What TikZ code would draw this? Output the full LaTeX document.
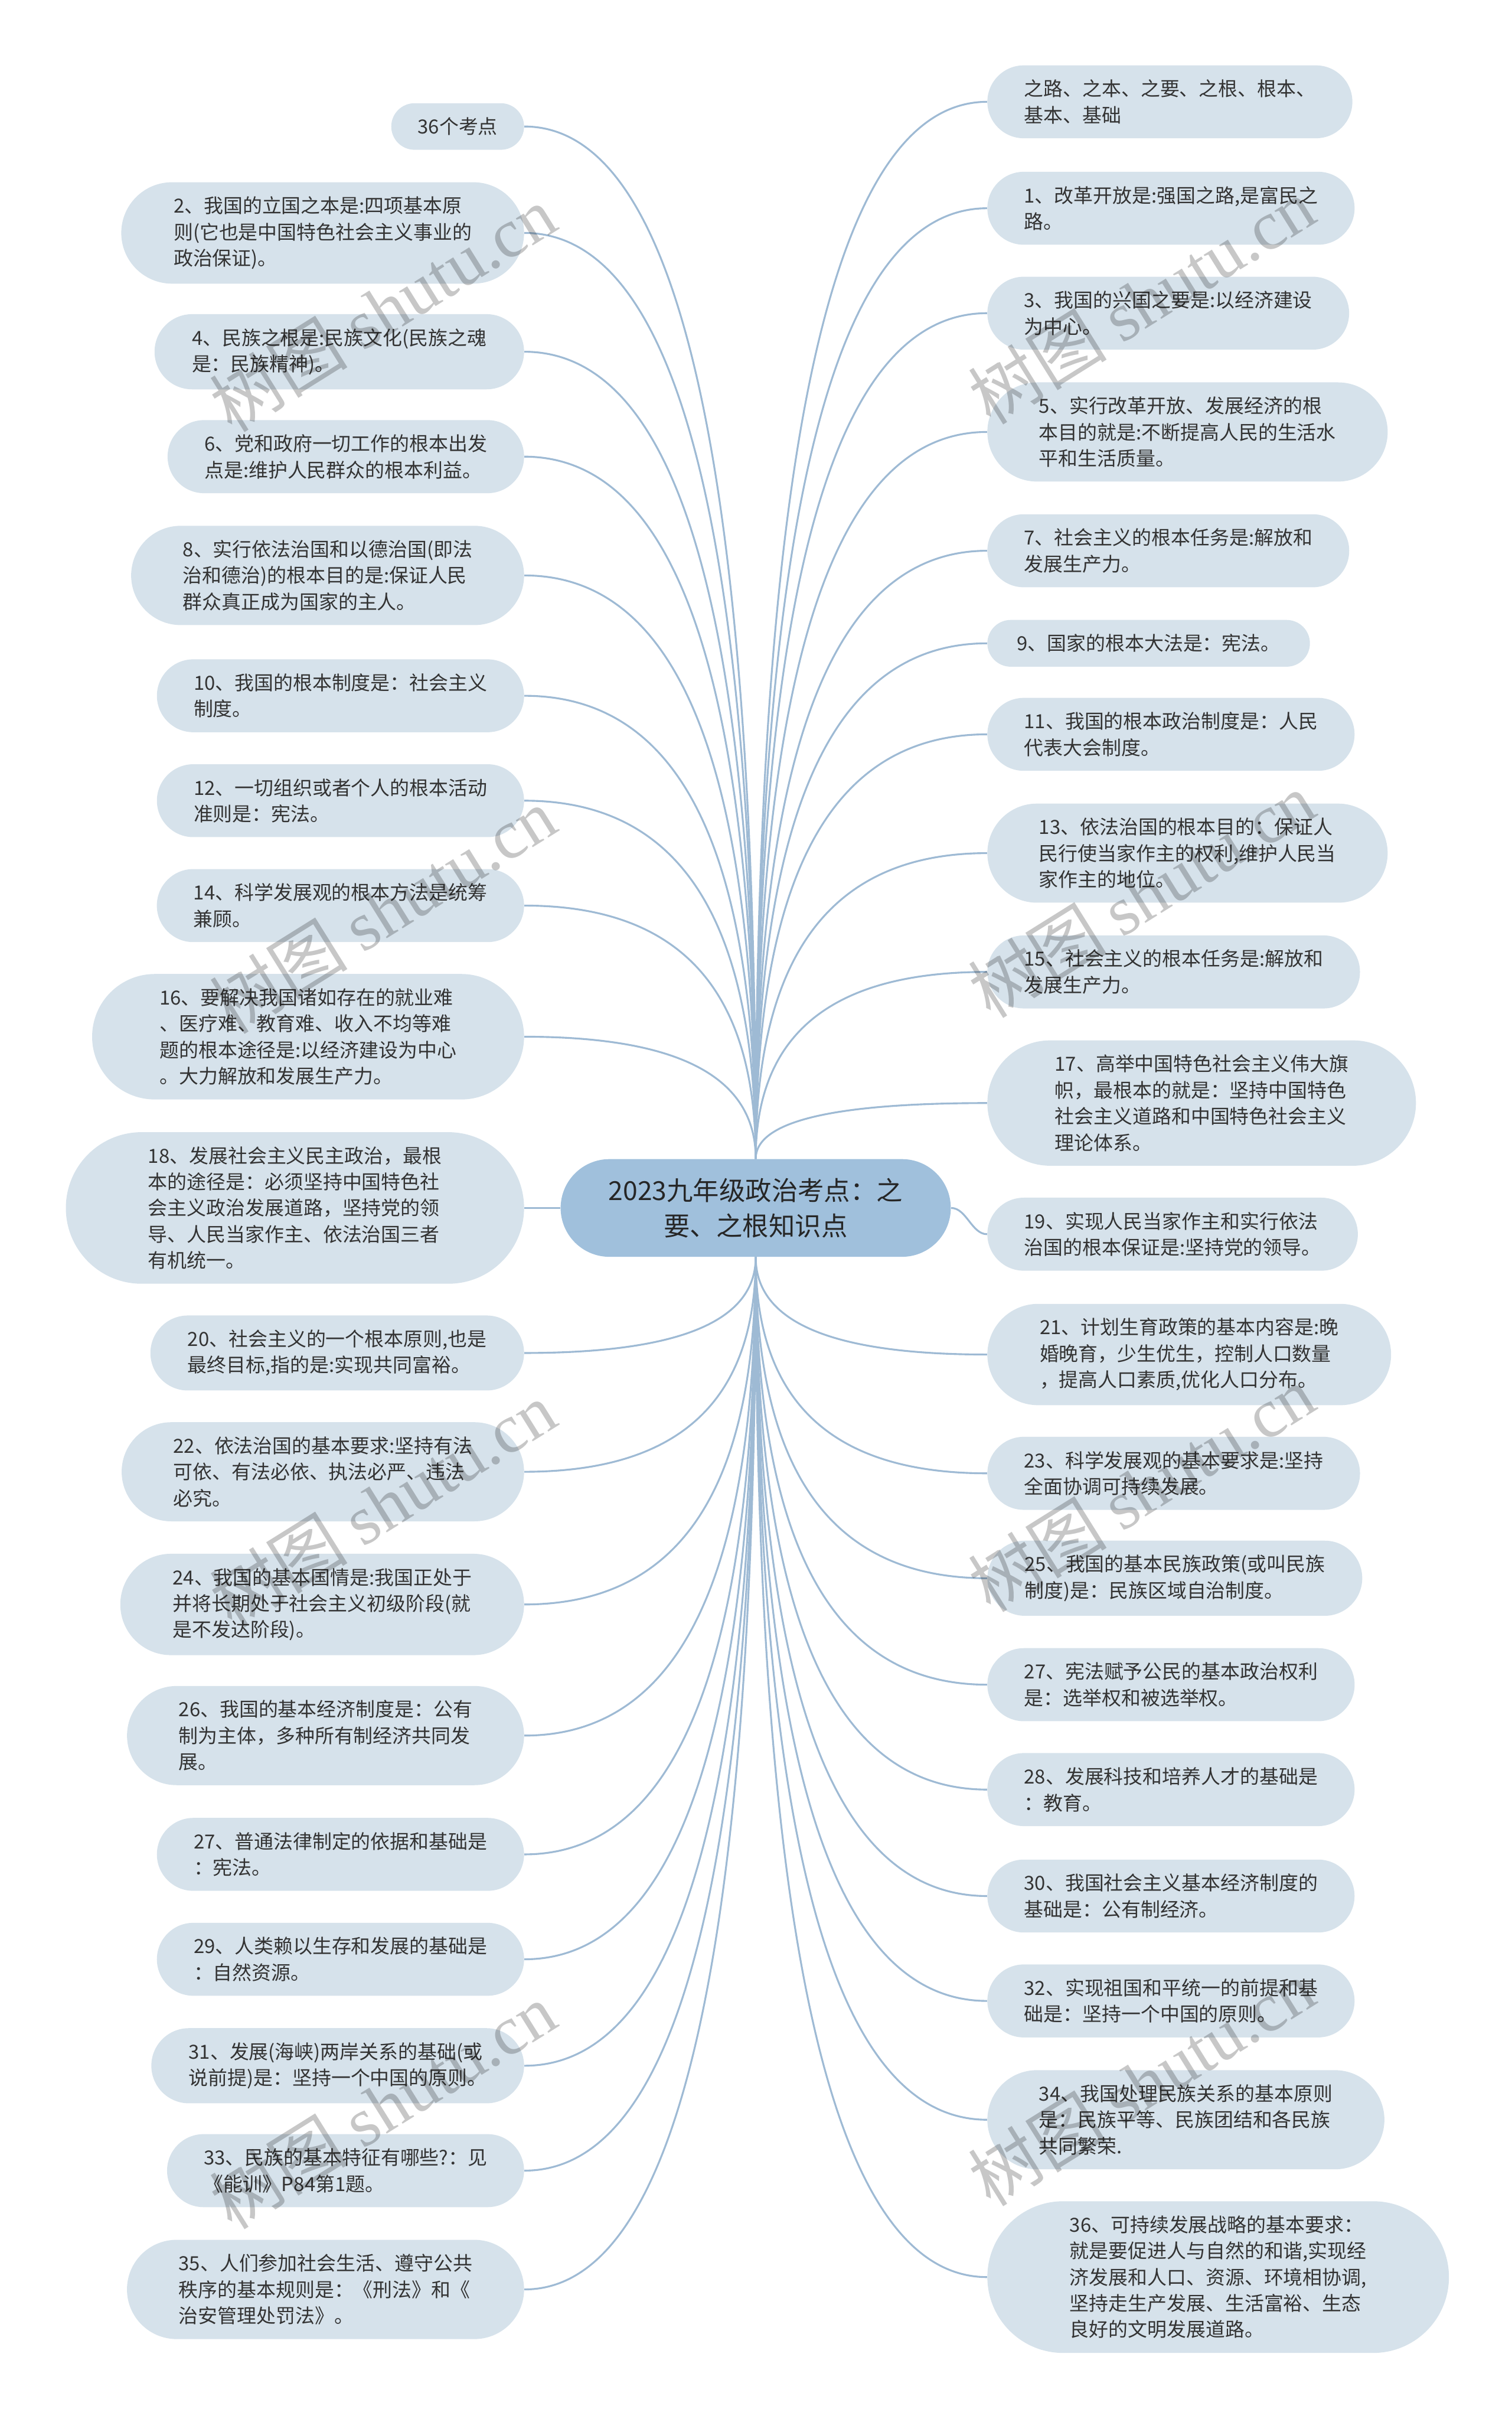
\documentclass[tikz,border=0pt]{standalone}
\usepackage{fontspec}
\setmainfont{Noto Sans CJK SC}
\newfontfamily\wmserif{Liberation Serif}
\usetikzlibrary{shapes.misc, calc}
\definecolor{leaffill}{RGB}{214,226,235}
\definecolor{rootfill}{RGB}{160,192,220}
\definecolor{branch}{RGB}{158,186,212}
\definecolor{inktext}{RGB}{51,51,51}

\begin{document}
\begin{tikzpicture}[x=1pt, y=-1pt,
    leaf/.style={rounded rectangle, fill=leaffill, text=inktext, align=left, inner xsep=#1, inner ysep=9.3pt, font=\fontsize{12.6}{17}\selectfont},
    leaf/.default=19pt,
    lleaf/.style={leaf=#1, anchor=east}, lleaf/.default=19pt,
    rleaf/.style={leaf=#1, anchor=west}, rleaf/.default=19pt,
    rootbox/.style={rounded rectangle, fill=rootfill, text=black!85, align=center, inner xsep=24.5pt, inner ysep=12.3pt, font=\fontsize{17}{23}\selectfont},
    branchline/.style={draw=branch, line width=1.2pt},
    wmark/.style={rotate=32, text=black, text opacity=0.22, font=\fontsize{45}{45}\selectfont}]
    \useasboundingbox (0,0) rectangle (980,1568);

    \node[rootbox] (root) at (490,783) {2023九年级政治考点：之\\要、之根知识点};

    % left column
    \node[lleaf=16pt] (L1) at (340,82) {36个考点};
    \node[lleaf=24pt] (L2) at (340,151) {2、我国的立国之本是:四项基本原\\则(它也是中国特色社会主义事业的\\政治保证)。};
    \node[lleaf] (L3) at (340,228) {4、民族之根是:民族文化(民族之魂\\是：民族精神)。};
    \node[lleaf] (L4) at (340,296) {6、党和政府一切工作的根本出发\\点是:维护人民群众的根本利益。};
    \node[lleaf=24pt] (L5) at (340,373) {8、实行依法治国和以德治国(即法\\治和德治)的根本目的是:保证人民\\群众真正成为国家的主人。};
    \node[lleaf] (L6) at (340,451) {10、我国的根本制度是：社会主义\\制度。};
    \node[lleaf] (L7) at (340,519) {12、一切组织或者个人的根本活动\\准则是：宪法。};
    \node[lleaf] (L8) at (340,587) {14、科学发展观的根本方法是统筹\\兼顾。};
    \node[lleaf=29pt] (L9) at (340,672) {16、要解决我国诸如存在的就业难\\、医疗难、教育难、收入不均等难\\题的根本途径是:以经济建设为中心\\。大力解放和发展生产力。};
    \node[lleaf=33pt] (L10) at (340,783) {18、发展社会主义民主政治，最根\\本的途径是：必须坚持中国特色社\\会主义政治发展道路，坚持党的领\\导、人民当家作主、依法治国三者\\有机统一。};
    \node[lleaf] (L11) at (340,877) {20、社会主义的一个根本原则,也是\\最终目标,指的是:实现共同富裕。};
    \node[lleaf=24pt] (L12) at (340,954) {22、依法治国的基本要求:坚持有法\\可依、有法必依、执法必严、违法\\必究。};
    \node[lleaf=24pt] (L13) at (340,1040) {24、我国的基本国情是:我国正处于\\并将长期处于社会主义初级阶段(就\\是不发达阶段)。};
    \node[lleaf=24pt] (L14) at (340,1125) {26、我国的基本经济制度是：公有\\制为主体，多种所有制经济共同发\\展。};
    \node[lleaf] (L15) at (340,1202) {27、普通法律制定的依据和基础是\\：宪法。};
    \node[lleaf] (L16) at (340,1270) {29、人类赖以生存和发展的基础是\\：自然资源。};
    \node[lleaf] (L17) at (340,1339) {31、发展(海峡)两岸关系的基础(或\\说前提)是：坚持一个中国的原则。};
    \node[lleaf] (L18) at (340,1407) {33、民族的基本特征有哪些?：见\\《能训》P84第1题。};
    \node[lleaf=24pt] (L19) at (340,1484) {35、人们参加社会生活、遵守公共\\秩序的基本规则是：《刑法》和《\\治安管理处罚法》。};

    % right column
    \node[rleaf] (R1) at (640,66) {之路、之本、之要、之根、根本、\\基本、基础};
    \node[rleaf] (R2) at (640,135) {1、改革开放是:强国之路,是富民之\\路。};
    \node[rleaf] (R3) at (640,203) {3、我国的兴国之要是:以经济建设\\为中心。};
    \node[rleaf=24pt] (R4) at (640,280) {5、实行改革开放、发展经济的根\\本目的就是:不断提高人民的生活水\\平和生活质量。};
    \node[rleaf] (R5) at (640,357) {7、社会主义的根本任务是:解放和\\发展生产力。};
    \node[rleaf=18pt] (R6) at (640,417) {9、国家的根本大法是：宪法。};
    \node[rleaf] (R7) at (640,476) {11、我国的根本政治制度是：人民\\代表大会制度。};
    \node[rleaf=24pt] (R8) at (640,553) {13、依法治国的根本目的：保证人\\民行使当家作主的权利,维护人民当\\家作主的地位。};
    \node[rleaf] (R9) at (640,630) {15、社会主义的根本任务是:解放和\\发展生产力。};
    \node[rleaf=29pt] (R10) at (640,715) {17、高举中国特色社会主义伟大旗\\帜，最根本的就是：坚持中国特色\\社会主义道路和中国特色社会主义\\理论体系。};
    \node[rleaf] (R11) at (640,800) {19、实现人民当家作主和实行依法\\治国的根本保证是:坚持党的领导。};
    \node[rleaf=24pt] (R12) at (640,878) {21、计划生育政策的基本内容是:晚\\婚晚育，少生优生，控制人口数量\\，提高人口素质,优化人口分布。};
    \node[rleaf] (R13) at (640,955) {23、科学发展观的基本要求是:坚持\\全面协调可持续发展。};
    \node[rleaf] (R14) at (640,1023) {25、我国的基本民族政策(或叫民族\\制度)是：民族区域自治制度。};
    \node[rleaf] (R15) at (640,1092) {27、宪法赋予公民的基本政治权利\\是：选举权和被选举权。};
    \node[rleaf] (R16) at (640,1160) {28、发展科技和培养人才的基础是\\：教育。};
    \node[rleaf] (R17) at (640,1229) {30、我国社会主义基本经济制度的\\基础是：公有制经济。};
    \node[rleaf] (R18) at (640,1297) {32、实现祖国和平统一的前提和基\\础是：坚持一个中国的原则。};
    \node[rleaf=24pt] (R19) at (640,1374) {34、我国处理民族关系的基本原则\\是：民族平等、民族团结和各民族\\共同繁荣.};
    \node[rleaf=33pt] (R20) at (640,1476) {36、可持续发展战略的基本要求：\\就是要促进人与自然的和谐,实现经\\济发展和人口、资源、环境相协调,\\坚持走生产发展、生活富裕、生态\\良好的文明发展道路。};

    % branches
    \foreach \i in {1,...,9}
        \draw[branchline] (root.north) .. controls ($(root.north)!.67!(root.north |- L\i.east)$) and ($(L\i.east)!.67!(root.north |- L\i.east)$) .. (L\i.east);
    \foreach \i in {11,...,19}
        \draw[branchline] (root.south) .. controls ($(root.south)!.67!(root.south |- L\i.east)$) and ($(L\i.east)!.67!(root.south |- L\i.east)$) .. (L\i.east);
    \foreach \i in {1,...,10}
        \draw[branchline] (root.north) .. controls ($(root.north)!.67!(root.north |- R\i.west)$) and ($(R\i.west)!.67!(root.north |- R\i.west)$) .. (R\i.west);
    \foreach \i in {12,...,20}
        \draw[branchline] (root.south) .. controls ($(root.south)!.67!(root.south |- R\i.west)$) and ($(R\i.west)!.67!(root.south |- R\i.west)$) .. (R\i.west);
    \draw[branchline] (root.west) -- (L10.east);
    \draw[branchline] (root.east) .. controls +(10,0) and +(-10,0) .. (R11.west);

    % watermark
    \foreach \x/\y in {248/200, 248/590, 248/975, 248/1365, 740/195, 740/580, 740/965, 740/1350}
        \node[wmark] at (\x,\y) {树图 {\wmserif shutu.cn}};
\end{tikzpicture}
\end{document}
